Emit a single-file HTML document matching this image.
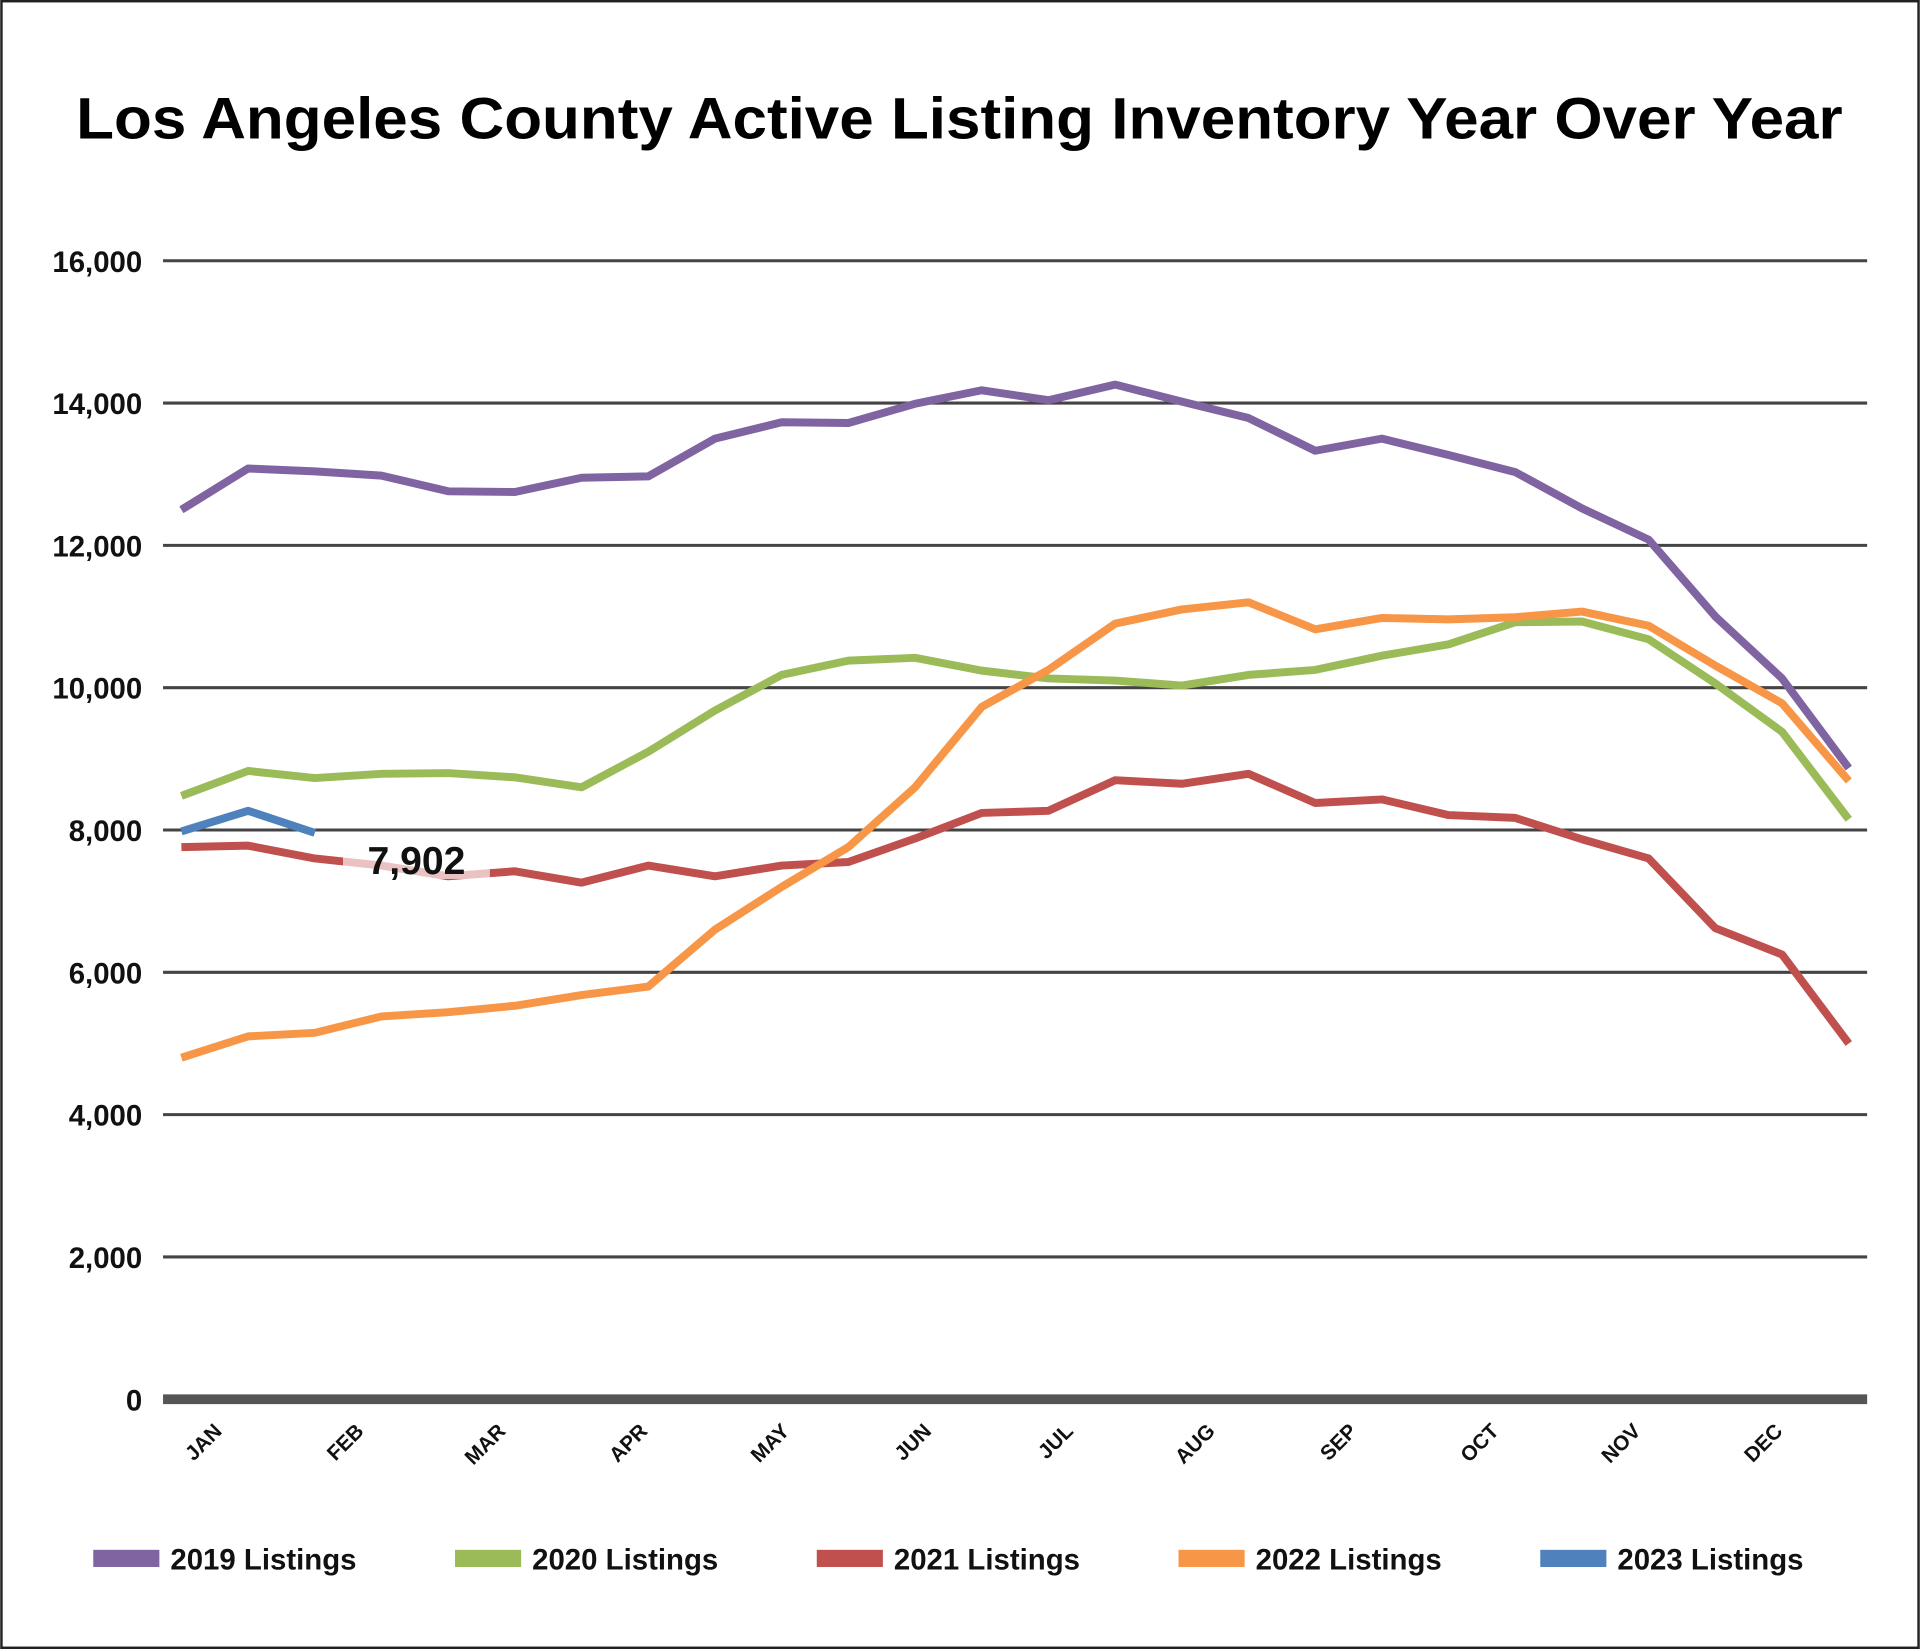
<!DOCTYPE html>
<html><head><meta charset="utf-8">
<style>
html,body{margin:0;padding:0;background:#fff;}
svg{display:block;}
text{font-family:"Liberation Sans",sans-serif;}
</style></head>
<body>
<svg id="chart" width="1920" height="1649" viewBox="0 0 1568 1347" xmlns="http://www.w3.org/2000/svg">
<rect x="1" y="1" width="1566" height="1345" fill="#fff" stroke="#222" stroke-width="2"/>
<text x="62" y="113" textLength="1443" lengthAdjust="spacingAndGlyphs" font-size="48" font-weight="bold" fill="#000">Los Angeles County Active Listing Inventory Year Over Year</text>
<g id="grid"></g>
<g id="xlabels"></g>
<g id="series"></g>
<g id="legend"></g>
</svg>
<script>
const yTicks=[0,2000,4000,6000,8000,10000,12000,14000,16000];
const months=["JAN","FEB","MAR","APR","MAY","JUN","JUL","AUG","SEP","OCT","NOV","DEC"];
const seriesNames=["2019 Listings","2020 Listings","2021 Listings","2022 Listings","2023 Listings"];
const s2019=[12500,13080,13040,12980,12760,12750,12950,12970,13500,13730,13720,13990,14180,14040,14260,14020,13790,13330,13500,13270,13030,12520,12080,11000,10130,8870];
const s2020=[8480,8830,8730,8790,8800,8740,8600,9100,9680,10180,10380,10420,10240,10130,10100,10030,10180,10250,10450,10610,10920,10930,10680,10060,9380,8150];
const s2021=[7760,7780,7600,7500,7350,7420,7260,7500,7350,7500,7550,7880,8240,8270,8700,8650,8790,8380,8430,8210,8170,7870,7600,6620,6250,5000];
const s2022=[4800,5100,5150,5380,5440,5530,5680,5800,6600,7200,7760,8600,9730,10250,10900,11100,11200,10820,10980,10960,10990,11070,10870,10310,9780,8690];
const s2023=[7980,8270,7960];
const annotationValue="7,902";
const colors=["#8064a2","#9bbb59","#c0504d","#f79646","#4f81bd"];
const NS="http://www.w3.org/2000/svg";
const y=v=>1143-v/16000*930;
const x=i=>148+i*(1510-148)/25;
const mx=i=>182+i*115.9;
function el(t,a,p){const e=document.createElementNS(NS,t);for(const k in a)e.setAttribute(k,a[k]);p.appendChild(e);return e;}
const grid=document.getElementById('grid');
yTicks.forEach(v=>{
  const l=el('line',{x1:133,x2:1525,y1:y(v),y2:y(v),stroke:v===0?'#555':'#444','stroke-width':v===0?8:2.5},grid);
  
  
  const t=el('text',{x:116,y:y(v)+9,'text-anchor':'end','font-size':24,'font-weight':'bold',fill:'#111'},grid);
  t.textContent=v.toLocaleString('en-US');
  
  
});
const xl=document.getElementById('xlabels');
months.forEach((m,i)=>{
  const t=el('text',{x:mx(i),y:1170,'text-anchor':'end','font-size':17,'font-weight':'bold',fill:'#111',transform:`rotate(-45 ${mx(i)} 1170)`},xl);
  t.textContent=m;
  
  
});
const sg=document.getElementById('series');
[s2019,s2020,s2021,s2022,s2023].forEach((s,k)=>{
  const p=el('polyline',{points:s.map((v,i)=>x(i)+','+y(v)).join(' '),fill:'none',stroke:colors[k],'stroke-width':6.5,'stroke-linejoin':'round'},sg);
  
  
});
const box=el('rect',{x:280,y:680,width:120,height:38,fill:'#fff',opacity:0.65},sg);


const at=el('text',{x:340,y:714,'text-anchor':'middle','font-size':32,'font-weight':'bold',fill:'#111'},sg);
at.textContent=annotationValue;


const lg=document.getElementById('legend');
seriesNames.forEach((n,k)=>{
  const lx=76+k*295.5;
  const r=el('rect',{x:lx,y:1266,width:54,height:14,fill:colors[k]},lg);
  
  
  const t=el('text',{x:lx+63,y:1282,'font-size':24,'font-weight':'bold',fill:'#111'},lg);
  t.textContent=n;
  
  
});
</script>
</body></html>
